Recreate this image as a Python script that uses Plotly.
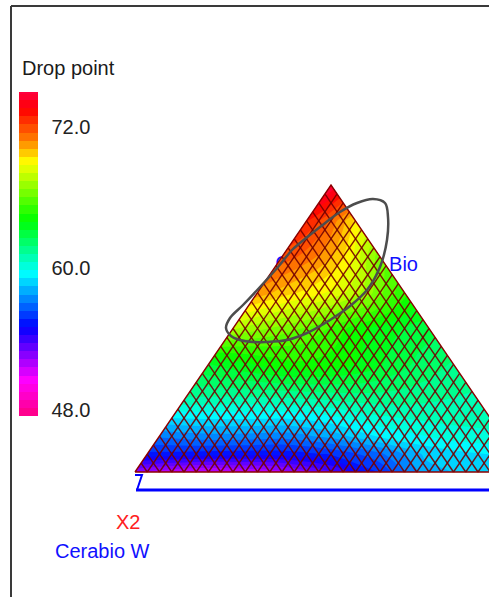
import plotly.graph_objects as go

# ---------------- data ----------------
# carpet parameters: a = position across each row (0 = left side, 1 = right side)
#                    b = height fraction (0 = base, 1 = apex)
a_levels = [0, 0.125, 0.25, 0.375, 0.5, 0.625, 0.75, 0.875, 1.0]
b_levels = [0, 0.0625, 0.125, 0.25, 0.375, 0.5, 0.625, 0.75, 0.875, 1.0]
drop_point = [
    [52.3, 51.5, 51.5, 52.0, 53.5, 55.8, 58.3, 58.6, 58.6],
    [55.5, 55.4, 55.3, 55.3, 55.8, 56.8, 58.5, 59.0, 59.3],
    [57.2, 57.5, 57.5, 57.4, 58.0, 59.1, 59.7, 60.2, 60.4],
    [61.0, 60.9, 60.9, 61.0, 61.2, 61.4, 61.4, 61.2, 61.0],
    [63.2, 63.7, 64.2, 64.5, 64.3, 63.8, 63.0, 62.3, 61.8],
    [67.5, 66.9, 66.4, 65.9, 65.2, 64.3, 63.7, 63.2, 62.8],
    [70.6, 70.0, 69.5, 69.1, 68.6, 67.9, 67.0, 65.8, 64.8],
    [71.9, 71.6, 71.2, 70.7, 70.1, 69.4, 68.5, 67.3, 66.3],
    [72.9, 72.6, 72.2, 71.8, 71.3, 70.8, 70.3, 69.8, 69.3],
    [74.9, 74.9, 74.9, 74.9, 74.9, 74.9, 74.9, 74.9, 74.9],
]
z_min, z_max = 47.45, 74.93
tick_vals = [48, 60, 72]
tick_text = ["48.0", "60.0", "72.0"]

# outline of the highlighted region (closed curve)
region_x = [226, 230, 243, 260, 278, 292, 300, 320, 340, 357, 373, 385, 388,
            387, 380, 367, 350, 330, 307, 287, 265, 253, 240, 231, 226]
region_y = [328, 318, 305, 287, 267, 250, 243, 227, 212, 203, 199, 203, 217,
            240, 267, 290, 306, 320, 333, 340, 342, 342, 340, 336, 328]

colorbar_title = "Drop point"
label_x2 = "X2"
label_comp = "Cerabio W"

# ---------------- geometry (pixel space) ----------------
W, H = 489, 597
L = (135.0, 472.0)
A = (331.0, 185.0)
R = (527.0, 472.0)
N_HATCH = 32

X = []
Y = []
for b in b_levels:
    rowx, rowy = [], []
    for a in a_levels:
        bx = L[0] + a * (R[0] - L[0])
        rowx.append((1 - b) * bx + b * A[0] + (a - 0.5) * 0.02 * (b == 1.0))
        rowy.append(L[1] + b * (A[1] - L[1]))
    X.append(rowx)
    Y.append(rowy)

colorscale = [
    [0.0, "#FF0080"],
    [0.111, "#FF00FF"],
    [0.275, "#0000FF"],
    [0.440, "#00FFFF"],
    [0.605, "#00FF00"],
    [0.784, "#FFFF00"],
    [0.852, "#FF8000"],
    [0.945, "#FF0000"],
    [1.0, "#FF0040"],
]

FONT = "Liberation Sans, Arial, sans-serif"

fig = go.Figure()

# label partly hidden under the triangle (base subplot)
fig.add_trace(go.Scatter(x=[282.5], y=[265], mode="text", text=["C"],
                         textposition="middle center",
                         textfont=dict(family=FONT, size=20, color="#1010FF"),
                         hoverinfo="skip", xaxis="x", yaxis="y"))

fig.add_trace(go.Carpet(
    a=a_levels, b=b_levels, x=X, y=Y, carpet="c1",
    xaxis="x2", yaxis="y2",
    aaxis=dict(showgrid=False, showline=False, showticklabels="none",
               startline=False, endline=False, minorgridcount=0, smoothing=0,
               gridcolor="rgba(0,0,0,0)", linecolor="rgba(0,0,0,0)"),
    baxis=dict(showgrid=False, showline=False, showticklabels="none",
               startline=False, endline=False, minorgridcount=0, smoothing=0,
               gridcolor="rgba(0,0,0,0)", linecolor="rgba(0,0,0,0)"),
))

fig.add_trace(go.Contourcarpet(
    a=a_levels, b=b_levels, z=drop_point, carpet="c1",
    xaxis="x2", yaxis="y2",
    zmin=z_min, zmax=z_max, colorscale=colorscale,
    autocontour=False,
    contours=dict(start=z_min, end=z_max, size=(z_max - z_min) / 40,
                  coloring="fill", showlines=False),
    line=dict(width=0),
    colorbar=dict(
        x=19 / W, xanchor="left", xpad=0,
        y=1 - 254 / H, yanchor="middle", ypad=0,
        len=324, lenmode="pixels", thickness=19,
        outlinewidth=0,
        tickvals=tick_vals, ticktext=tick_text,
        ticks="outside", ticklen=10, tickcolor="rgba(0,0,0,0)",
        tickfont=dict(family=FONT, size=20, color="#222222"),
    ),
))

# diamond hatch lines parallel to the two slanted sides
hx, hy = [], []
for k in range(1, N_HATCH):
    t = k / N_HATCH
    px = L[0] + t * (R[0] - L[0])
    py = L[1]
    # parallel to L->A
    hx += [px, px + (1 - t) * (A[0] - L[0]), None]
    hy += [py, py + (1 - t) * (A[1] - L[1]), None]
    # parallel to R->A
    hx += [px, px + t * (A[0] - R[0]), None]
    hy += [py, py + t * (A[1] - R[1]), None]
fig.add_trace(go.Scatter(x=hx, y=hy, mode="lines",
                         line=dict(color="rgba(115,0,0,0.9)", width=1.4),
                         hoverinfo="skip", xaxis="x2", yaxis="y2"))

# triangle outline
fig.add_trace(go.Scatter(x=[L[0], A[0], R[0], L[0]], y=[L[1], A[1], R[1], L[1]],
                         mode="lines", line=dict(color="#8B0000", width=1.4),
                         hoverinfo="skip", xaxis="x2", yaxis="y2"))

# highlighted region outline
fig.add_trace(go.Scatter(x=region_x, y=region_y, mode="lines",
                         line=dict(color="#4d4d4d", width=2.5, shape="spline", smoothing=1.0),
                         hoverinfo="skip", xaxis="x2", yaxis="y2"))

fig.add_trace(go.Scatter(x=[403.5], y=[266], mode="text", text=["Bio"],
                         textposition="middle center",
                         textfont=dict(family=FONT, size=20, color="#1010FF"),
                         hoverinfo="skip", xaxis="x2", yaxis="y2"))

ax = dict(range=[0, W], visible=False, fixedrange=True)
ay = dict(range=[H, 0], visible=False, fixedrange=True)
fig.update_layout(
    width=W, height=H,
    margin=dict(l=0, r=0, t=0, b=0),
    paper_bgcolor="white", plot_bgcolor="white",
    showlegend=False,
    xaxis=dict(**ax, domain=[0, 1]),
    yaxis=dict(**ay, domain=[0, 1]),
    xaxis2=dict(**ax, overlaying="x"),
    yaxis2=dict(**ay, overlaying="y"),
    shapes=[
        # frame
        dict(type="line", xref="x", yref="y", x0=11, y0=6, x1=11, y1=700,
             line=dict(color="#3a3a3a", width=2)),
        dict(type="line", xref="x", yref="y", x0=11, y0=6, x1=700, y1=6,
             line=dict(color="#3a3a3a", width=2)),
        # blue base axis
        dict(type="line", xref="x", yref="y", x0=136, y0=490, x1=700, y1=490,
             line=dict(color="#0000FF", width=3)),
        dict(type="path", xref="x", yref="y",
             path="M 135,475 L 142,475 L 137,490",
             line=dict(color="#0000FF", width=2)),
    ],
    annotations=[
        dict(x=20, y=68, xref="x", yref="y", text=colorbar_title, showarrow=False,
             xanchor="left", yanchor="middle",
             font=dict(family=FONT, size=20, color="#1a1a1a")),
        dict(x=128, y=522, xref="x", yref="y", text=label_x2, showarrow=False,
             xanchor="center", yanchor="middle",
             font=dict(family=FONT, size=20, color="#FF2020")),
        dict(x=102, y=551, xref="x", yref="y", text=label_comp, showarrow=False,
             xanchor="center", yanchor="middle",
             font=dict(family=FONT, size=20, color="#1010FF")),
    ],
)

fig.write_html("out.html")
